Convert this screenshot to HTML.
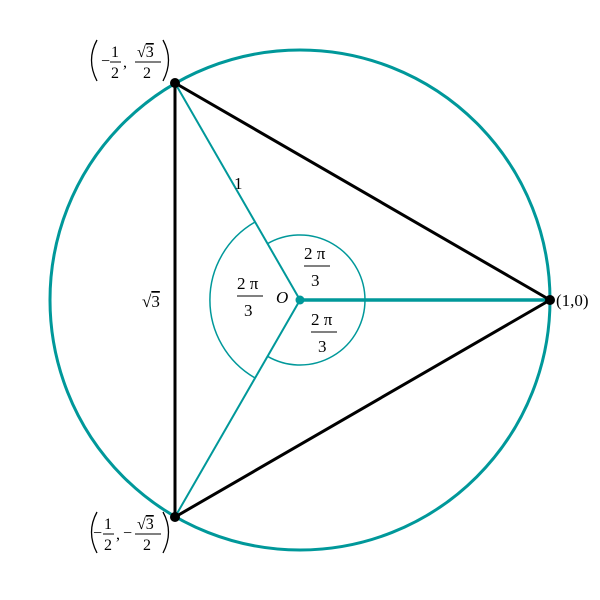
<!DOCTYPE html>
<html><head><meta charset="utf-8"><style>body{margin:0;background:#fff}svg{display:block}text{font-family:"Liberation Serif",serif;fill:#000}</style></head><body>
<svg width="600" height="600" viewBox="0 0 600 600">
<g fill="none" stroke="#00989a">
<circle cx="300" cy="300" r="250" stroke-width="3"/>
<path d="M255,222 A90,90 0 0 0 255,378" stroke-width="1.5"/>
<path d="M267.5,243.7 A65,65 0 1 1 267.5,356.3" stroke-width="1.5"/>
<line x1="300" y1="300" x2="175" y2="83" stroke-width="2"/>
<line x1="300" y1="300" x2="175" y2="517" stroke-width="2"/>
<line x1="300" y1="300" x2="550" y2="300" stroke-width="3.5"/>
</g>
<circle cx="300" cy="300" r="4.5" fill="#00989a"/>
<polygon points="175,83 550,300 175,517" fill="none" stroke="#000" stroke-width="3"/>
<circle cx="175" cy="83" r="5" fill="#000"/>
<circle cx="175" cy="517" r="5" fill="#000"/>
<circle cx="550" cy="300" r="5" fill="#000"/>
<g font-size="17">
<text x="556" y="306">(1,0)</text>
<text x="234" y="189">1</text>
<text x="276" y="303" font-style="italic">O</text>
<text x="142" y="307">√<tspan text-decoration="overline">3</tspan></text>
<text x="304" y="259">2 π</text><line x1="304" y1="266" x2="330" y2="266" stroke="#000"/><text x="311" y="286">3</text>
<text x="237" y="289">2 π</text><line x1="237" y1="296" x2="263" y2="296" stroke="#000"/><text x="244" y="316">3</text>
<text x="311" y="325">2 π</text><line x1="311" y1="332" x2="337" y2="332" stroke="#000"/><text x="318" y="352">3</text>
</g>
<g fill="none" stroke="#000" stroke-width="1.3">
<path d="M97,40 Q86,60 97,81"/><path d="M163,40 Q174,60 163,81"/>
<path d="M97,512 Q86,532 97,553"/><path d="M163,512 Q174,532 163,553"/>
</g>
<g font-size="16">
<text x="101" y="66">−</text><text x="111" y="57">1</text><line x1="110" y1="62" x2="121" y2="62" stroke="#000"/><text x="111" y="78">2</text><text x="123" y="67">,</text>
<text x="137" y="57">√<tspan text-decoration="overline">3</tspan></text><line x1="135" y1="62" x2="161" y2="62" stroke="#000"/><text x="143" y="78">2</text>
<text x="93" y="538">−</text><text x="104" y="529">1</text><line x1="103" y1="534" x2="114" y2="534" stroke="#000"/><text x="104" y="550">2</text><text x="116" y="539">,</text>
<text x="123" y="538">−</text>
<text x="137" y="529">√<tspan text-decoration="overline">3</tspan></text><line x1="135" y1="534" x2="161" y2="534" stroke="#000"/><text x="143" y="550">2</text>
</g>
</svg>
</body></html>
